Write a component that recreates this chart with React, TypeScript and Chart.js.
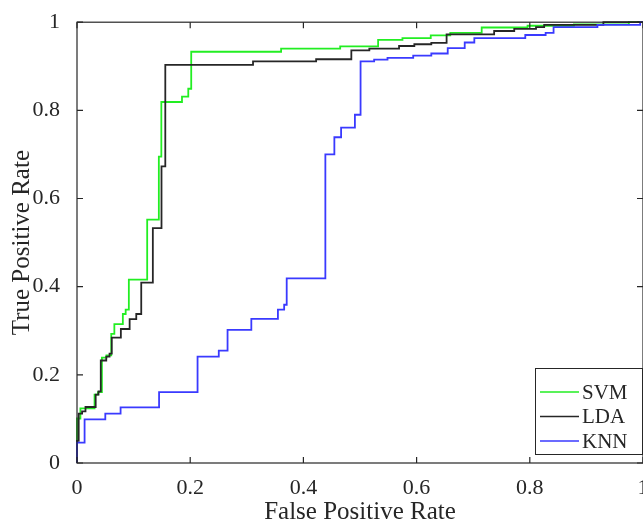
import React, { useEffect, useRef } from 'react';
import { Chart, registerables } from 'chart.js';

Chart.register(...registerables);

// Each point: at this False Positive Rate the curve rises to this True Positive Rate
const seriesNames = ['SVM', 'LDA', 'KNN'];

const svmFPR = [0, 0, 0.006, 0.031, 0.037, 0.044, 0.052, 0.0605, 0.066, 0.081, 0.086, 0.0916, 0.124, 0.1446, 0.149, 0.1855, 0.1966, 0.2018, 0.3606, 0.465, 0.532, 0.575, 0.625, 0.6595, 0.715, 0.796, 0.878, 0.975, 1];
const svmTPR = [0, 0.101, 0.124, 0.155, 0.161, 0.239, 0.244, 0.293, 0.315, 0.338, 0.348, 0.416, 0.552, 0.695, 0.819, 0.831, 0.849, 0.933, 0.94, 0.945, 0.96, 0.964, 0.97, 0.976, 0.988, 0.992, 0.995, 1, 1];

const ldaFPR = [0, 0, 0.003, 0.009, 0.015, 0.033, 0.038, 0.042, 0.0517, 0.0575, 0.0614, 0.0775, 0.093, 0.1047, 0.1135, 0.134, 0.1493, 0.156, 0.311, 0.4225, 0.4847, 0.5165, 0.569, 0.596, 0.626, 0.653, 0.737, 0.7725, 0.811, 0.8254, 0.93, 1];
const ldaTPR = [0, 0.05, 0.112, 0.117, 0.127, 0.155, 0.1625, 0.2325, 0.2415, 0.248, 0.2845, 0.304, 0.3266, 0.338, 0.409, 0.533, 0.673, 0.903, 0.911, 0.916, 0.936, 0.94, 0.946, 0.95, 0.953, 0.9725, 0.98, 0.985, 0.989, 0.994, 1, 1];

const knnFPR = [0, 0, 0.0134, 0.05, 0.077, 0.145, 0.213, 0.2505, 0.266, 0.308, 0.355, 0.366, 0.3705, 0.4388, 0.4547, 0.4666, 0.491, 0.501, 0.525, 0.5486, 0.594, 0.626, 0.655, 0.685, 0.702, 0.792, 0.828, 0.842, 0.9195, 0.995, 1];
const knnTPR = [0, 0.046, 0.099, 0.112, 0.126, 0.161, 0.2415, 0.255, 0.302, 0.327, 0.348, 0.359, 0.419, 0.7, 0.739, 0.761, 0.79, 0.911, 0.915, 0.919, 0.924, 0.929, 0.941, 0.954, 0.964, 0.971, 0.976, 0.989, 0.994, 1, 1];

const tickValues = [0, 0.2, 0.4, 0.6, 0.8, 1];
const tickLabels = ['0', '0.2', '0.4', '0.6', '0.8', '1'];
const xTitle = 'False Positive Rate';
const yTitle = 'True Positive Rate';

const colors = ['#22ee22', '#262626', '#3a3aff'];
const axisColor = '#262626';
const fontFamily = "'Liberation Serif', 'Times New Roman', serif";

const toPoints = (xs: number[], ys: number[]) => xs.map((x, i) => ({ x, y: ys[i] }));

const framePlugin = {
  id: 'matlabFrame',
  afterDatasetsDraw(chart: any) {
    const { ctx, chartArea: a, scales } = chart;
    ctx.save();
    ctx.strokeStyle = axisColor;
    ctx.lineWidth = 1.2;
    ctx.strokeRect(a.left, a.top, a.right - a.left, a.bottom - a.top);
    const tl = 6;
    ctx.beginPath();
    tickValues.forEach((v) => {
      const x = scales.x.getPixelForValue(v);
      ctx.moveTo(x, a.bottom); ctx.lineTo(x, a.bottom - tl);
      ctx.moveTo(x, a.top); ctx.lineTo(x, a.top + tl);
      const y = scales.y.getPixelForValue(v);
      ctx.moveTo(a.left, y); ctx.lineTo(a.left + tl, y);
      ctx.moveTo(a.right, y); ctx.lineTo(a.right - tl, y);
    });
    ctx.stroke();

    // legend box
    const w = 108, h = 87;
    const bx = a.right - w, by = a.bottom - 8 - h;
    ctx.fillStyle = '#ffffff';
    ctx.fillRect(bx, by, w, h);
    ctx.lineWidth = 1;
    ctx.strokeRect(bx + 0.5, by + 0.5, w - 1, h - 1);
    ctx.font = `21px ${fontFamily}`;
    ctx.textBaseline = 'middle';
    ctx.textAlign = 'left';
    chart.data.datasets.forEach((ds: any, i: number) => {
      const yy = by + 24 + i * 24.5;
      ctx.strokeStyle = ds.borderColor;
      ctx.lineWidth = 1.5;
      ctx.beginPath();
      ctx.moveTo(bx + 5, yy); ctx.lineTo(bx + 44, yy);
      ctx.stroke();
      ctx.fillStyle = axisColor;
      ctx.fillText(ds.label, bx + 47, yy + 1);
    });
    ctx.restore();
  },
};

export default function App() {
  const ref = useRef<HTMLCanvasElement>(null);
  useEffect(() => {
    if (!ref.current) return;
    const datasets = [
      [svmFPR, svmTPR],
      [ldaFPR, ldaTPR],
      [knnFPR, knnTPR],
    ].map(([xs, ys], i) => ({
      label: seriesNames[i],
      data: toPoints(xs, ys),
      borderColor: colors[i],
      backgroundColor: colors[i],
      borderWidth: 1.8,
      pointRadius: 0,
      stepped: 'before' as const,
      fill: false,
      clip: 4,
      order: 3 - i,
    }));
    const chart = new Chart(ref.current, {
      type: 'line',
      data: { datasets },
      options: {
        animation: false,
        responsive: false,
        devicePixelRatio: 1,
        layout: { autoPadding: false, padding: { left: 0, top: 20, right: 17, bottom: 0 } },
        plugins: { legend: { display: false }, tooltip: { enabled: false } },
        scales: {
          x: {
            type: 'linear',
            min: 0,
            max: 1,
            afterFit: (s: any) => { s.height = 62; },
            afterBuildTicks: (s: any) => { s.ticks = tickValues.map((v) => ({ value: v })); },
            grid: { display: false },
            border: { display: false },
            ticks: {
              padding: 4,
              color: axisColor,
              font: { family: fontFamily, size: 22 },
              maxRotation: 0,
              callback: (v: any) => tickLabels[tickValues.indexOf(Number(v))] ?? '',
            },
            title: {
              display: true,
              text: xTitle,
              color: axisColor,
              font: { family: fontFamily, size: 25 },
              padding: { top: 0, bottom: -2 },
            },
          },
          y: {
            type: 'linear',
            min: 0,
            max: 1,
            afterFit: (s: any) => { s.width = 77; },
            afterBuildTicks: (s: any) => { s.ticks = tickValues.map((v) => ({ value: v })); },
            grid: { display: false },
            border: { display: false },
            ticks: {
              padding: 9,
              color: axisColor,
              font: { family: fontFamily, size: 22 },
              callback: (v: any) => tickLabels[tickValues.indexOf(Number(v))] ?? '',
            },
            title: {
              display: true,
              text: yTitle,
              color: axisColor,
              font: { family: fontFamily, size: 25 },
              padding: { top: 7, bottom: 0 },
            },
          },
        },
      },
      plugins: [framePlugin],
    });
    return () => chart.destroy();
  }, []);
  return (
    <div style={{ position: 'absolute', left: 0, top: 0, width: 643, height: 525, overflow: 'hidden', background: '#fff' }}>
      <canvas ref={ref} width={660} height={525} style={{ display: 'block' }} />
    </div>
  );
}
